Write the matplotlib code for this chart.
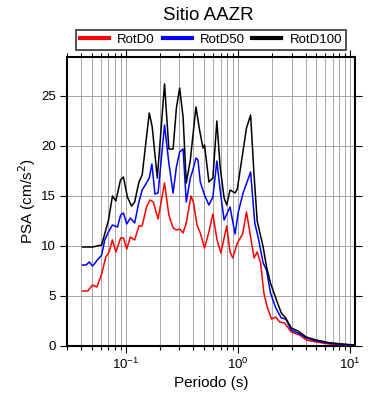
import matplotlib
matplotlib.use("Agg")
import matplotlib.pyplot as plt
from matplotlib.ticker import LogLocator, MultipleLocator, NullFormatter

plt.rcParams['font.family'] = ['Liberation Sans', 'DejaVu Sans']

# valores
T_d0 = [0.0412, 0.0458, 0.0506, 0.0553, 0.061, 0.0664, 0.071, 0.0761, 0.0816, 0.090,
        0.0953, 0.102, 0.110, 0.120, 0.131, 0.140, 0.153, 0.164, 0.176, 0.194,
        0.2215, 0.242, 0.264, 0.2825, 0.302, 0.324, 0.346, 0.381, 0.402, 0.431,
        0.461, 0.503, 0.5505, 0.597, 0.648, 0.703, 0.794, 0.849, 0.898, 0.986,
        1.10, 1.19, 1.39, 1.48, 1.59, 1.70, 1.82, 1.99, 2.17, 2.35,
        2.60, 2.98, 3.54, 4.05, 4.97, 6.51, 8.56, 10.8]
rotd0 = [5.5, 5.5, 6.1, 5.9, 7.2, 8.9, 9.4, 10.6, 9.4, 10.8,
         10.8, 9.7, 10.9, 10.6, 12.0, 12.0, 13.9, 14.6, 14.4, 12.7,
         16.3, 13.1, 11.8, 11.6, 11.7, 11.3, 12.3, 15.0, 14.3, 12.1,
         11.3, 9.8, 11.4, 13.2, 10.7, 9.3, 12.0, 9.4, 8.8, 10.3,
         11.2, 13.4, 8.8, 9.4, 8.3, 5.3, 3.9, 2.7, 2.9, 2.4,
         2.3, 1.4, 1.1, 0.6, 0.4, 0.2, 0.12, 0.05]

T_d50 = [0.0412, 0.0443, 0.0473, 0.0506, 0.0559, 0.061, 0.065, 0.070, 0.0761, 0.0843,
         0.090, 0.0953, 0.102, 0.110, 0.120, 0.131, 0.140, 0.153, 0.162, 0.171,
         0.182, 0.194, 0.2215, 0.242, 0.264, 0.2825, 0.302, 0.324, 0.346, 0.376,
         0.394, 0.422, 0.44, 0.461, 0.503, 0.5505, 0.597, 0.648, 0.693, 0.752,
         0.849, 0.941, 1.006, 1.11, 1.295, 1.41, 1.51, 1.675, 1.795, 1.947,
         2.17, 2.43, 2.66, 2.98, 3.42, 4.05, 4.97, 6.51, 8.56, 10.8]
rotd50 = [8.1, 8.1, 8.4, 8.0, 8.6, 9.1, 10.6, 11.4, 12.1, 11.9,
          13.1, 13.3, 12.2, 12.8, 12.3, 14.4, 15.6, 16.3, 16.8, 18.2,
          15.2, 15.3, 22.1, 18.3, 15.3, 17.9, 19.4, 19.7, 14.4, 16.8,
          17.5, 18.8, 18.6, 16.4, 15.1, 14.1, 14.9, 18.5, 15.6, 12.6,
          13.9, 11.2, 13.4, 15.3, 17.4, 12.3, 10.9, 8.3, 7.6, 5.3,
          3.8, 2.8, 2.7, 1.6, 1.3, 0.8, 0.5, 0.27, 0.15, 0.07]

T_d100 = [0.0412, 0.0506, 0.061, 0.0702, 0.0761, 0.0816, 0.0897, 0.0953, 0.1034, 0.1124,
          0.120, 0.131, 0.140, 0.153, 0.162, 0.172, 0.191, 0.2215, 0.242, 0.264,
          0.2825, 0.302, 0.324, 0.346, 0.376, 0.422, 0.4545, 0.487, 0.503, 0.5505,
          0.597, 0.648, 0.693, 0.752, 0.794, 0.849, 0.941, 0.986, 1.078, 1.19,
          1.295, 1.386, 1.482, 1.675, 1.795, 1.947, 2.2, 2.43, 2.66, 2.98,
          3.42, 4.05, 4.97, 6.51, 8.56, 10.8]
rotd100 = [9.9, 9.9, 10.1, 12.6, 15.0, 14.5, 16.6, 16.9, 14.9, 14.0,
           14.4, 16.4, 17.1, 20.9, 23.3, 21.9, 16.8, 26.2, 19.7, 19.7,
           23.8, 25.8, 22.9, 16.3, 18.6, 23.9, 21.6, 19.8, 20.1, 16.4,
           16.8, 22.5, 17.9, 14.8, 14.1, 15.6, 15.3, 15.7, 18.6, 21.8,
           23.1, 17.3, 12.5, 9.9, 7.9, 6.3, 4.6, 3.3, 2.8, 1.8,
           1.5, 0.9, 0.6, 0.33, 0.2, 0.1]

fig = plt.figure(figsize=(3.9, 4.0), dpi=100)
ax = fig.add_axes([0.172, 0.135, 0.738, 0.7225])

ax.plot(T_d0, rotd0, color='red', lw=1.1, label='RotD0', zorder=3)
ax.plot(T_d50, rotd50, color='blue', lw=1.1, label='RotD50', zorder=4)
ax.plot(T_d100, rotd100, color='black', lw=1.1, label='RotD100', zorder=5)

ax.set_xscale('log')
ax.set_xlim(0.03, 11)
ax.set_ylim(0, 28.9)
ax.xaxis.set_major_locator(LogLocator(base=10))
ax.xaxis.set_minor_locator(LogLocator(base=10, subs=range(2, 10)))
ax.xaxis.set_minor_formatter(NullFormatter())
ax.yaxis.set_major_locator(MultipleLocator(5))

ax.grid(True, which='both', axis='x', color='#999999', lw=0.6)
ax.grid(True, which='major', axis='y', color='#999999', lw=0.6)
ax.set_axisbelow(True)

for s in ax.spines.values():
    s.set_linewidth(1.5)
ax.tick_params(which='both', direction='out', top=True, right=True, labelsize=9.5, width=0.8)
ax.tick_params(which='major', length=5, pad=3)
ax.tick_params(which='minor', length=3)

ax.set_xlabel('Periodo (s)', fontsize=11, labelpad=3)
ax.set_ylabel('PSA (cm/s$^2$)', fontsize=11, labelpad=2)
fig.text(0.535, 0.962, 'Sitio AAZR', ha='center', va='center', fontsize=13.5)

leg = ax.legend(loc='lower center', bbox_to_anchor=(0.5, 1.024), ncol=3, fontsize=9.5,
                frameon=True, fancybox=False, edgecolor='black', handlelength=2.2,
                handletextpad=0.6, columnspacing=0.6, borderpad=0.3, borderaxespad=0)
leg.get_frame().set_linewidth(1.2)
for h in leg.get_lines():
    h.set_linewidth(3)

fig.savefig('out.png', dpi=100)
